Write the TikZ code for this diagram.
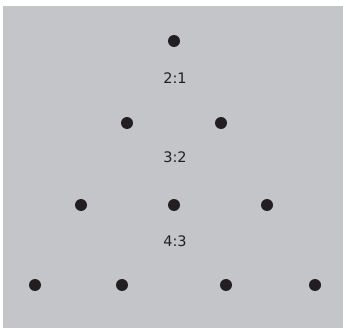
\documentclass[tikz,border=0pt]{standalone}
\usepackage{fontspec}
\setmainfont{DejaVu Sans}
\definecolor{bggray}{RGB}{196,197,201}
\definecolor{dotblack}{RGB}{35,31,32}
\begin{document}
\begin{tikzpicture}[x=1pt,y=-1pt,
  dot/.style={circle,fill=dotblack,inner sep=0pt,minimum size=12pt},
  ratio/.style={font=\fontsize{14.5}{16}\selectfont,text=dotblack,inner sep=0pt}]
\useasboundingbox (0,0) rectangle (343,329);
\fill[bggray] (3,6) rectangle (343,328);
\node[dot] (a1) at (174,41) {};
\node[dot] (b1) at (127,123) {};
\node[dot] (b2) at (221,123) {};
\node[dot] (c1) at (81,205) {};
\node[dot] (c2) at (174,205) {};
\node[dot] (c3) at (267,205) {};
\node[dot] (d1) at (35,285) {};
\node[dot] (d2) at (122,285) {};
\node[dot] (d3) at (226,285) {};
\node[dot] (d4) at (315,285) {};
\node[ratio] (r1) at (175,78) {2:1};
\node[ratio] (r2) at (175,157) {3:2};
\node[ratio] (r3) at (175,241) {4:3};
\end{tikzpicture}
\end{document}
